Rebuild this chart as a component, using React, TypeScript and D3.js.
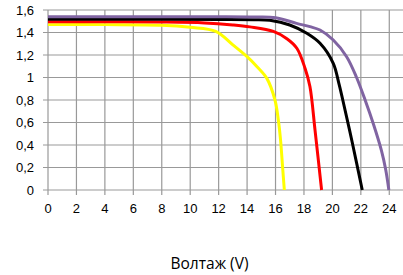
import * as d3 from "d3";

type Pt = [number, number];

const width = 403;
const height = 275;
const margin = { top: 10, left: 48, bottom: 85 };

const xTicks = d3.range(0, 25, 2);
const yTicks = [0, 0.2, 0.4, 0.6, 0.8, 1, 1.2, 1.4, 1.6];
const xTitle = "Волтаж (V)";

// I-V curves
const yellowPts: Pt[] = [
  [0, 1.47], [4, 1.47], [8, 1.465], [10, 1.446], [11.8, 1.41], [13, 1.29],
  [14, 1.185], [14.7, 1.096], [15.4, 0.99], [15.96, 0.8], [16.2, 0.62],
  [16.35, 0.45], [16.5, 0.2], [16.62, 0],
];
const redPts: Pt[] = [
  [0, 1.495], [4, 1.495], [8, 1.493], [11, 1.485], [13, 1.467], [14.2, 1.45],
  [15.85, 1.41], [16.8, 1.345], [17.5, 1.26], [18.08, 1.08], [18.42, 0.92],
  [18.78, 0.53], [19.24, 0],
];
const blackPts: Pt[] = [
  [0, 1.517], [8, 1.517], [12, 1.516], [14.5, 1.514], [15.6, 1.508],
  [17, 1.467], [18.2, 1.393], [19.13, 1.304], [20.06, 1.126], [20.45, 0.95],
  [20.73, 0.8], [21.4, 0.42], [22.1, 0],
];
const purplePts: Pt[] = [
  [0, 1.54], [8, 1.54], [12, 1.54], [14.5, 1.538], [16, 1.532],
  [17.48, 1.481], [18.42, 1.452], [19.13, 1.422], [20.06, 1.333], [21, 1.185],
  [21.7, 1.0], [22.3, 0.8], [22.9, 0.58], [23.45, 0.35], [23.75, 0.18],
  [23.97, 0],
];

const series = [
  { pts: yellowPts, color: "#ffff00" },
  { pts: redPts, color: "#ff0000" },
  { pts: blackPts, color: "#000000" },
  { pts: purplePts, color: "#8064a2" },
];

const fmt = (v: number) => String(Math.round(v * 10) / 10).replace(".", ",");

const App = () => {
  const x = d3.scaleLinear().domain([0, 25]).range([margin.left, margin.left + 25 * 14.22]);
  const y = d3.scaleLinear().domain([0, 1.6]).range([190, margin.top]);

  const line = d3
    .line<Pt>()
    .x((d) => x(d[0]))
    .y((d) => y(d[1]))
    .curve(d3.curveCatmullRom.alpha(0.5));

  const grid = "#999999";
  const font = "'Liberation Sans', Arial, sans-serif";

  return (
    <svg
      width={width}
      height={height}
      style={{ position: "absolute", left: 0, top: 0, background: "#fff" }}
    >
      {/* horizontal grid + y ticks */}
      {yTicks.map((t) => (
        <g key={"y" + t}>
          <line x1={x(0) - 5} x2={width} y1={y(t)} y2={y(t)} stroke={grid} strokeWidth={1.2} />
          <text
            x={34}
            y={y(t)}
            dy="0.36em"
            textAnchor="end"
            fontFamily={font}
            fontSize={13}
            fill="#000"
          >
            {fmt(t)}
          </text>
        </g>
      ))}
      {/* vertical grid + x ticks */}
      {xTicks.map((t) => (
        <g key={"x" + t}>
          <line x1={x(t)} x2={x(t)} y1={y(1.6)} y2={y(0) + 5} stroke={grid} strokeWidth={1.2} />
          <text
            x={x(t)}
            y={212.5}
            textAnchor="middle"
            fontFamily={font}
            fontSize={13}
            fill="#000"
          >
            {t}
          </text>
        </g>
      ))}
      {series.map((s) => (
        <path
          key={s.color}
          d={line(s.pts) ?? ""}
          fill="none"
          stroke={s.color}
          strokeWidth={3}
          strokeLinejoin="round"
        />
      ))}
      <text
        x={209.5}
        y={269}
        textAnchor="middle"
        fontFamily="'Open Sans', sans-serif"
        fontSize={15.5}
        fill="#000"
      >
        {xTitle}
      </text>
    </svg>
  );
};

export default App;
